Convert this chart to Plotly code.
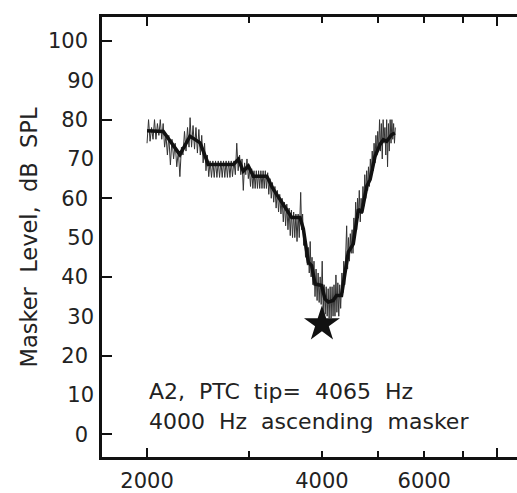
import plotly.graph_objects as go

# Raw tracking trace (thin line): masker frequency (Hz) and level (dB SPL)
trace_freq = [
    2000, 2012, 2024, 2036, 2048, 2060, 2072, 2084, 2096, 2108, 2120, 2132, 2144,
    2156, 2168, 2180, 2194, 2208, 2222, 2236, 2250, 2264, 2278, 2292,
    2306, 2320, 2334, 2348, 2362, 2372, 2386, 2400, 2414, 2428, 2442, 2456, 2470, 2484,
    2498, 2512, 2526, 2540, 2554,
    2568, 2582, 2596, 2610, 2624, 2638, 2652, 2666, 2680, 2694, 2708, 2722, 2736, 2750,
    2764, 2778, 2792, 2806, 2822, 2838, 2854, 2870, 2886, 2900, 2914, 2929, 2944, 2958,
    2972, 2988,
    3000, 3014, 3028, 3042, 3056, 3070, 3084, 3098, 3112, 3126, 3140, 3154, 3168, 3182,
    3196, 3210, 3226,
    3240, 3256, 3272, 3288, 3304, 3320, 3336, 3352, 3368, 3384, 3400, 3416, 3432, 3448,
    3464, 3480, 3496, 3512, 3528, 3544, 3560, 3576, 3592, 3608, 3624, 3640, 3656, 3677,
    3690, 3705,
    3720, 3734, 3748, 3762, 3776, 3790, 3804, 3818, 3832, 3846,
    3860, 3876, 3892, 3908, 3924, 3940, 3956, 3972, 3988, 4004, 4020, 4036, 4052, 4068,
    4084, 4100, 4116, 4132, 4148, 4164, 4180, 4196, 4212, 4228, 4244, 4260, 4276, 4292, 4308,
    4330, 4346, 4362, 4378, 4394, 4412, 4428, 4444, 4460, 4476, 4492, 4508, 4524, 4540,
    4556, 4572, 4590, 4606, 4622, 4638, 4656, 4672, 4690, 4706, 4724, 4740, 4758, 4776,
    4794, 4810, 4828, 4846, 4864, 4882, 4900, 4918, 4936, 4954, 4972, 4990, 5008, 5026,
    5044, 5062, 5080, 5098, 5116, 5134, 5152, 5170, 5188, 5206, 5224, 5242, 5260, 5278,
    5296, 5314, 5332, 5350,
]
trace_level = [
    74, 80, 74.5, 78, 75, 80, 75, 79, 76, 80, 75, 79, 73,
    76, 71, 76, 68.5, 75, 70, 74, 68, 72, 65.5, 73,
    71, 77, 72, 78, 73, 80.5, 73, 78.5, 72.5, 78, 71.5, 77.5, 71, 76,
    69, 74, 67, 71, 65.5,
    69.5, 65.3, 69.5, 65.3, 69.5, 65.3, 69.5, 65.3, 69.5, 65.3, 69.5, 65.3, 69.5, 65.3,
    69.5, 65.3, 69.5, 65.5, 69.5, 66, 74, 67, 71, 66, 70, 62, 69, 66,
    70, 65,
    67.5, 63, 67.5, 62.5, 67, 62.5, 67, 62.5, 67, 62.5, 67, 62.5, 67, 62.5,
    67, 62.5, 66.5,
    61, 65, 60, 64, 59, 63, 57.5, 62, 56.5, 61, 56, 60, 54, 59,
    53, 58.5, 52, 57.5, 50.5, 57, 50, 56.5, 50, 56, 49, 56, 50, 61.5,
    52, 56,
    48, 51, 45, 49, 43, 47.5, 41, 49, 40, 45,
    38, 44, 35, 42, 34, 41, 33.5, 40, 33, 44, 31, 38, 30.5, 37.5,
    30, 37, 29.5, 37.5, 29.5, 37.5, 30, 38, 30, 40.5, 31, 38.5, 30, 38, 32,
    41, 36, 44, 38, 48, 53, 42, 50, 44, 51, 46, 52, 46, 55,
    50, 59, 52, 60, 55, 62, 54, 60, 56, 63, 58, 66, 60, 67,
    62, 68, 63, 70, 66, 72, 67, 74, 69, 76, 71, 77, 72, 80,
    72, 79, 70, 80, 74, 78, 71, 80, 68, 79, 72, 80, 74, 80,
    75, 79, 74, 78,
]

# Smoothed PTC (thick line)
smooth_freq = [2000, 2133, 2278, 2371, 2468, 2550, 2816, 2872, 2929, 2988, 3048,
               3214, 3298, 3388, 3480, 3548, 3666, 3716, 3790, 3840, 3892, 3996,
               4048, 4102, 4182, 4238, 4323, 4440, 4529, 4622, 4685, 4780, 4842,
               4938, 5036, 5102, 5170, 5274, 5342]
smooth_level = [77.2, 77, 71.1, 75.8, 74.1, 68.6, 68.6, 69.9, 66.9, 68.2, 65.6,
                65.6, 62.3, 59.7, 57.2, 55.1, 55.1, 52.2, 43.7, 42.9, 38.2, 37.8,
                34.4, 33.6, 34, 35.3, 35.3, 46.3, 48.4, 57.2, 56.4, 63.1, 64.8,
                70.7, 73.7, 74.9, 74.5, 76.2, 76.6]

# PTC tip marker
tip_freq = [4000]
tip_level = [28]

y_mark_vals = [0, 20, 40, 60, 80, 100]      # labelled with tick marks
y_odd_vals = [10, 30, 50, 70, 90]           # labelled without tick marks
x_tick_vals = [2000, 3000, 4000, 5000, 6000, 7000, 8000]
x_tick_text = ["2000", "", "4000", "", "6000", "", ""]
x_long_ticks = [2000, 8000]

FONT = "DejaVu Sans"
TXT = "#222222"
AX = "#111111"

fig = go.Figure()
fig.add_trace(go.Scatter(x=trace_freq, y=trace_level, mode="lines",
                         line=dict(color="#333333", width=1), hoverinfo="skip",
                         showlegend=False))
fig.add_trace(go.Scatter(x=smooth_freq, y=smooth_level, mode="lines",
                         line=dict(color="#111111", width=3.5), showlegend=False))
fig.add_trace(go.Scatter(x=tip_freq, y=tip_level, mode="markers",
                         marker=dict(symbol="star", size=27, color="#111111"),
                         showlegend=False))
# invisible trace on the overlay axes so they are drawn
fig.add_trace(go.Scatter(x=[2000], y=[50], xaxis="x2", yaxis="y2", mode="markers",
                         marker=dict(opacity=0), hoverinfo="skip", showlegend=False))

xr = [3.2235, 3.9378]
yr = [-5.8, 106.1]

fig.update_layout(
    width=517, height=493,
    margin=dict(l=102, r=0, t=17, b=34),
    paper_bgcolor="white", plot_bgcolor="white",
    font=dict(family=FONT, size=21, color=TXT),
    xaxis=dict(type="log", range=xr, tickvals=x_tick_vals, ticktext=x_tick_text,
               ticks="inside", ticklen=6, tickwidth=2, tickcolor=AX,
               showline=True, linewidth=2.5, linecolor=AX, mirror="ticks",
               showgrid=False, zeroline=False, ticklabelstandoff=3,
               tickfont=dict(family=FONT, size=21, color=TXT)),
    yaxis=dict(range=yr, tickvals=y_mark_vals, ticks="inside", ticklen=10,
               tickwidth=2, tickcolor=AX, showline=True,
               linewidth=2.5, linecolor=AX, showgrid=False, zeroline=False,
               ticklabelstandoff=7,
               tickfont=dict(family=FONT, size=21, color=TXT)),
    xaxis2=dict(type="log", range=xr, overlaying="x", anchor="y", tickvals=x_long_ticks,
                ticks="inside", ticklen=9, tickwidth=2, tickcolor=AX,
                showticklabels=False, showgrid=False, zeroline=False, showline=False,
                mirror="ticks"),
    yaxis2=dict(range=yr, overlaying="y", anchor="x", side="left", tickvals=y_odd_vals,
                ticks="", showticklabels=True, showgrid=False, zeroline=False,
                showline=False, ticklabelstandoff=7,
                tickfont=dict(family=FONT, size=21, color=TXT)),
    annotations=[
        dict(text="Masker\u00a0\u00a0Level,\u00a0\u00a0dB\u00a0\u00a0SPL", textangle=-90,
             xref="paper", yref="paper", x=-0.175, y=0.5, xanchor="center",
             yanchor="middle", showarrow=False,
             font=dict(family=FONT, size=22.5, color=TXT)),
        dict(text="A2,\u00a0\u00a0PTC\u00a0\u00a0tip=\u00a0\u00a04065\u00a0\u00a0Hz",
             xref="paper", yref="paper", x=0.1084, y=0.1493, xanchor="left",
             yanchor="middle", showarrow=False,
             font=dict(family=FONT, size=22, color=TXT)),
        dict(text="4000\u00a0\u00a0Hz\u00a0\u00a0ascending\u00a0\u00a0masker",
             xref="paper", yref="paper", x=0.1084, y=0.0814, xanchor="left",
             yanchor="middle", showarrow=False,
             font=dict(family=FONT, size=22, color=TXT)),
    ],
)

fig.write_html("out.html")
